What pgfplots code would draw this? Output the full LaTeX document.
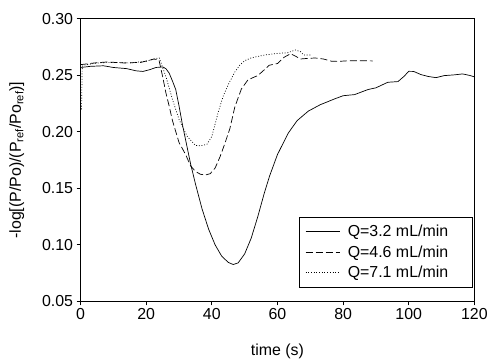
\documentclass[border=0pt]{standalone}
\usepackage{fontspec}
\setmainfont{Liberation Sans}
\usepackage{pgfplots}
\pgfplotsset{compat=1.18}
\usetikzlibrary{calc}
\begin{document}
\begin{tikzpicture}[font=\fontsize{16}{19}\selectfont]
\begin{axis}[
  scale only axis,
  width=396pt, height=284pt,
  xmin=0, xmax=120, ymin=0.05, ymax=0.30,
  xtick={0,20,...,120},
  ytick={0.05,0.10,0.15,0.20,0.25,0.30},
  yticklabel style={/pgf/number format/.cd,fixed,fixed zerofill,precision=2},
  /pgf/number format/assume math mode=true,
  tick label style={font=\fontsize{16}{19}\selectfont},
  tick align=outside, tick pos=left,
  major tick length=4pt,
  axis line style={line width=0.8pt},
  every tick/.style={black,line width=0.8pt},
  xlabel={time (s)},
  ylabel={-log[(P/Po)/(P\textsubscript{ref}/Po\textsubscript{ref})]},
  every axis x label/.style={at={(axis description cs:0.5,-0.178)},anchor=center},
  every axis y label/.style={at={(axis description cs:-0.162,0.5)},rotate=90,anchor=center},
  label style={font=\fontsize{16}{19}\selectfont},
  legend style={at={(axis description cs:0.995,0.049)},anchor=south east,
    draw=black, line width=0.8pt, font=\fontsize{16}{19}\selectfont,
    inner xsep=6pt, inner ysep=7pt, row sep=5.5pt, column sep=0pt,
    nodes={inner sep=1pt}},
  legend cell align=left,
  legend image code/.code={\draw[#1] (0pt,0pt) -- (35pt,0pt);},
  clip=false,
]
\addplot[black, line width=0.7pt] coordinates {
(0,0.257)(3,0.258)(7,0.2585)(10,0.257)(14,0.256)(17,0.254)(19,0.2535)(21,0.255)
(23,0.257)(25,0.2575)(26,0.256)(27,0.252)(28,0.245)(29,0.2375)(30,0.223)(31,0.207)
(33.5,0.172)(35,0.154)(37,0.132)(39,0.114)(41,0.100)(43,0.090)(45,0.0845)(46.5,0.0826)
(48,0.084)(50,0.092)(52,0.106)(54,0.125)(56,0.146)(57.6,0.161)(60,0.180)(63.3,0.199)
(66,0.210)(69.4,0.2184)(73,0.224)(77.5,0.2293)(80,0.232)(83.5,0.233)(87.6,0.2375)
(90,0.239)(93.6,0.2439)(96.7,0.2445)(98.5,0.249)(100,0.2536)(101.5,0.2535)(103.7,0.2507)
(106,0.249)(108.3,0.248)(110.8,0.2498)(114,0.2505)(116.4,0.2513)(118.5,0.250)(120,0.2487)
};
\addlegendentry{\kern6pt Q=3.2 mL/min\rule{17pt}{0pt}}
\addplot[black, line width=0.7pt, dash pattern=on 7pt off 3pt] coordinates {
(0,0.2595)(4.2,0.261)(8.2,0.2619)(13.3,0.261)(18.4,0.2615)(22.4,0.2645)(23.9,0.2635)
(25,0.249)(26,0.2346)(27,0.2228)(28,0.210)(30,0.1906)(32,0.180)(33.5,0.170)(35,0.165)
(36.5,0.1625)(38,0.1618)(39.5,0.163)(41,0.168)(42.5,0.178)(44,0.190)(45.5,0.203)
(47,0.222)(49,0.238)(51,0.246)(52.5,0.248)(54,0.2498)(56,0.255)(57.5,0.259)(60,0.2605)
(62,0.266)(64,0.2692)(65.5,0.267)(67,0.2645)(69,0.265)(71.5,0.2654)(74,0.2645)
(76.5,0.2625)(78.5,0.2624)(82,0.263)(86,0.263)(89,0.2628)
};
\addlegendentry{\kern6pt Q=4.6 mL/min\rule{17pt}{0pt}}
\addplot[black, line width=0.7pt, dash pattern=on 0.9pt off 1.8pt] coordinates {
(0.3,0.220)(0.5,0.258)(1,0.259)(5,0.261)(10,0.2615)(15,0.261)(20,0.2625)(23,0.265)
(24,0.2654)(25,0.257)(26,0.249)(28,0.2287)(30,0.211)(32.5,0.196)(35,0.188)(36.5,0.1876)
(38.5,0.189)(40,0.196)(42,0.218)(43.5,0.232)(45.2,0.243)(47,0.253)(48.5,0.259)(50,0.263)
(52,0.2655)(56,0.268)(60,0.2695)(63,0.270)(65.5,0.2725)(67,0.271)(68,0.268)(70,0.268)
};
\addlegendentry{\kern6pt Q=7.1 mL/min\rule{17pt}{0pt}}
\end{axis}
\path ($(current axis.south west)+(-81pt,-55pt)$) rectangle ($(current axis.north east)+(14pt,19pt)$);
\end{tikzpicture}
\end{document}
